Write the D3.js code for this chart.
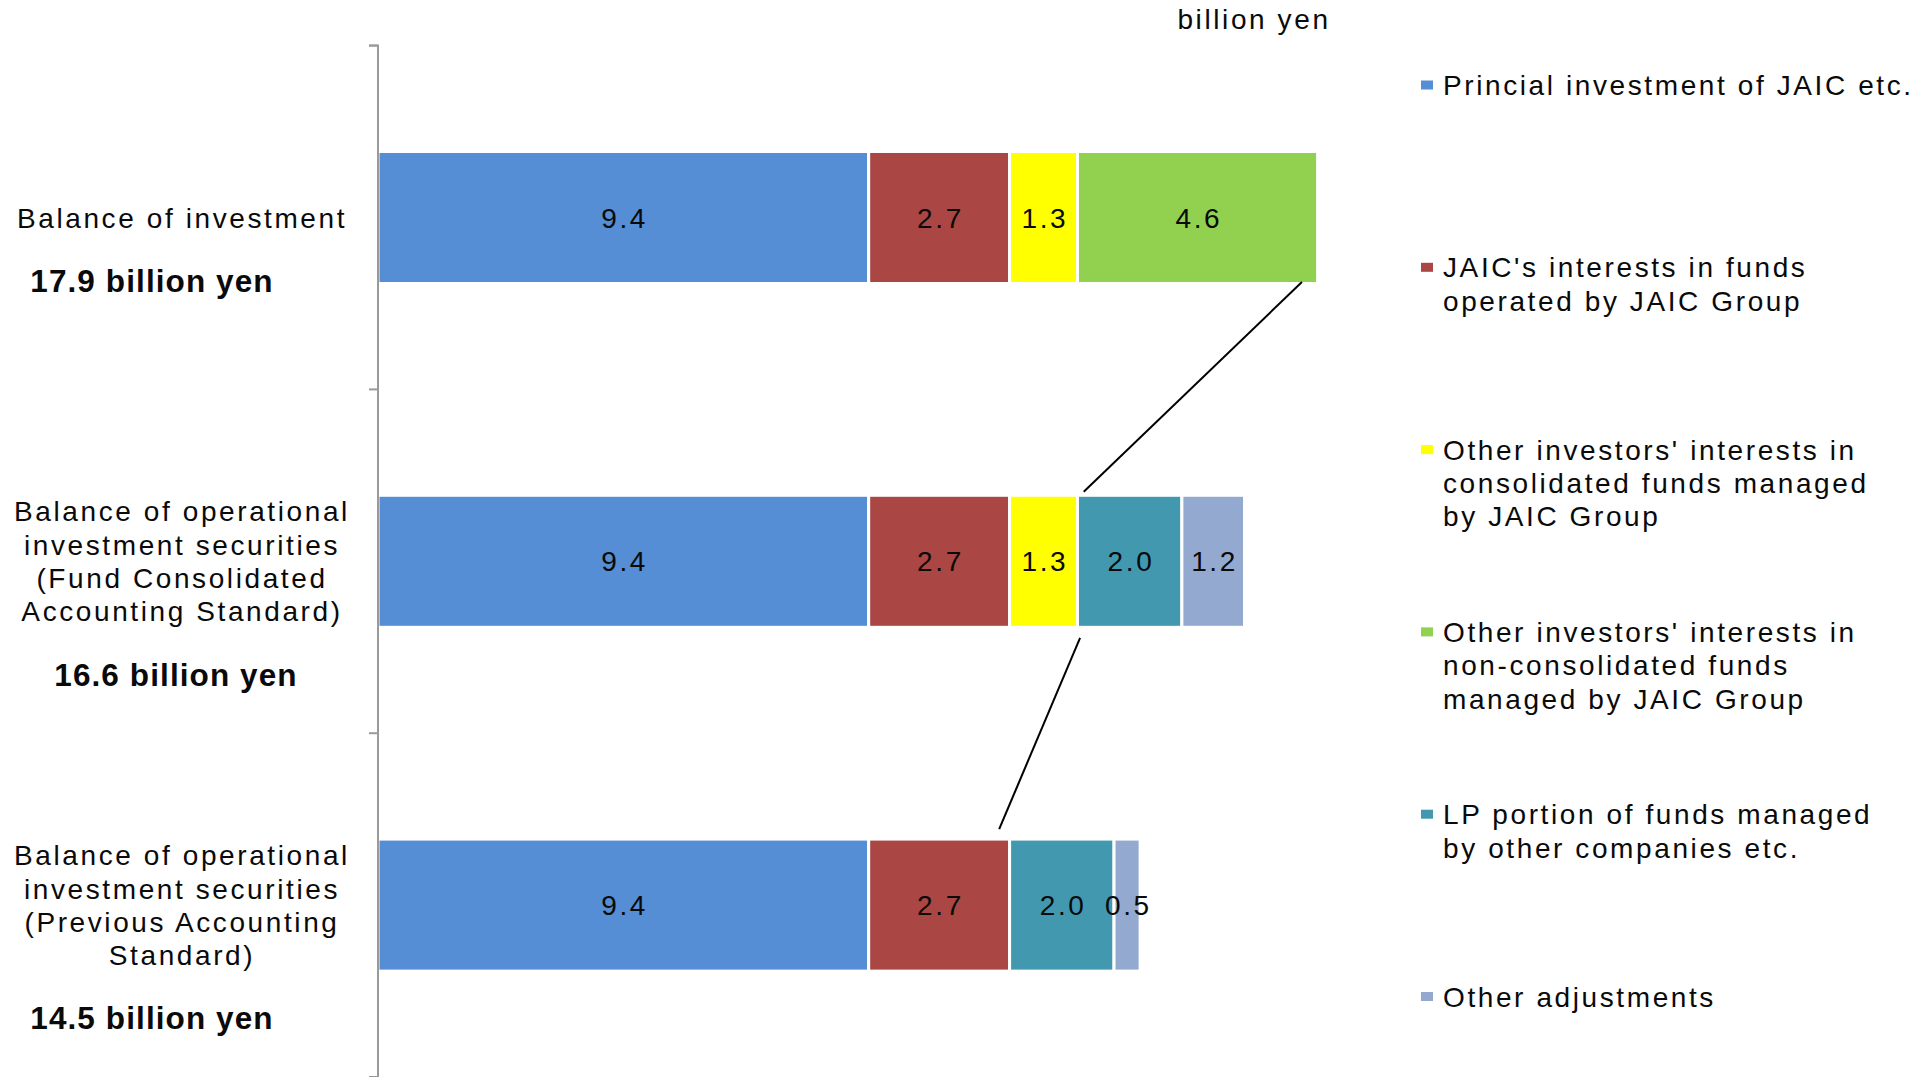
<!DOCTYPE html>
<html>
<head>
<meta charset="utf-8">
<script src="https://cdn.jsdelivr.net/npm/d3@7"></script>
<style>
  html, body { margin: 0; padding: 0; background: #ffffff; }
  svg { display: block; }
  text { font-family: "Liberation Sans", Arial, sans-serif; fill: #0a0a0a; }
</style>
</head>
<body>
<svg id="chart" width="1932" height="1077"></svg>
<script>
// ---------------- data ----------------
const categories = [
  "Balance of investment",
  "Balance of operational investment securities (Fund Consolidated Accounting Standard)",
  "Balance of operational investment securities (Previous Accounting Standard)"
];
const categoryLines = [
  ["Balance of investment"],
  ["Balance of operational", "investment securities", "(Fund Consolidated", "Accounting Standard)"],
  ["Balance of operational", "investment securities", "(Previous Accounting", "Standard)"]
];
const categoryTotals = ["17.9 billion yen", "16.6 billion yen", "14.5 billion yen"];

const seriesNames = [
  "Princial investment of JAIC etc.",
  "JAIC's interests in funds operated by JAIC Group",
  "Other investors' interests in consolidated funds managed by JAIC Group",
  "Other investors' interests in non-consolidated funds managed by JAIC Group",
  "LP portion of funds managed by other companies etc.",
  "Other adjustments"
];
const seriesLines = [
  ["Princial investment of JAIC etc."],
  ["JAIC's interests in funds", "operated by JAIC Group"],
  ["Other investors' interests in", "consolidated funds managed", "by JAIC Group"],
  ["Other investors' interests in", "non-consolidated funds", "managed by JAIC Group"],
  ["LP portion of funds managed", "by other companies etc."],
  ["Other adjustments"]
];

// values per series, in category order (billion yen)
const principalInvestment      = [9.4, 9.4, 9.4];
const jaicFundInterests        = [2.7, 2.7, 2.7];
const otherConsolidated        = [1.3, 1.3, 0];
const otherNonConsolidated     = [4.6, 0, 0];
const lpPortionOtherCompanies  = [0, 2.0, 2.0];
const otherAdjustments         = [0, 1.2, 0.5];

const seriesColors = ["#558ED5", "#AA4643", "#FFFF00", "#92D050", "#4198AF", "#93A9CF"];
const unitLabel = "billion yen";
const xDomain = [0, 20];

// connector lines between bars (value positions on the x axis)
const connectorFrom = [17.7, 13.45];   // value on upper bar (bottom edge)
const connectorTo   = [13.52, 11.9];   // value on lower bar (top edge)
const connectorFromCat = [0, 1];
const connectorToCat   = [1, 2];

// ---------------- build ----------------
const seriesValues = [principalInvestment, jaicFundInterests, otherConsolidated,
                      otherNonConsolidated, lpPortionOtherCompanies, otherAdjustments];
const keys = seriesNames;
const table = categories.map((c, i) => {
  const row = { category: c };
  keys.forEach((k, j) => row[k] = seriesValues[j][i]);
  return row;
});

const svg = d3.select("#chart");

const x = d3.scaleLinear().domain(xDomain).range([378, 378 + 1044]);
const y = d3.scaleBand().domain(categories).range([45.6, 1077])
  .paddingInner(0.616).paddingOuter(0.308);
const yOuter = d3.scaleBand().domain(categories).range([45.6, 1077]).padding(0);

const stack = d3.stack().keys(keys);
const stacked = stack(table);

const fontReg = 28, spacing = "2.6px";

// bars
const layers = svg.append("g").selectAll("g")
  .data(stacked).join("g")
  .attr("fill", (d, i) => seriesColors[i]);

layers.selectAll("rect")
  .data(d => d.map(v => Object.assign(v, { key: d.key })))
  .join("rect")
  .filter(d => d[1] - d[0] > 0)
  .attr("x", d => x(d[0]))
  .attr("y", d => y(d.data.category))
  .attr("width", d => x(d[1]) - x(d[0]))
  .attr("height", y.bandwidth())
  .attr("stroke", "#ffffff")
  .attr("stroke-width", 3);

// data labels
stacked.forEach((layer, i) => {
  svg.append("g").selectAll("text")
    .data(layer.filter(d => d[1] - d[0] > 0))
    .join("text")
    .attr("x", d => (x(d[0]) + x(d[1])) / 2 + 1.3)
    .attr("y", d => y(d.data.category) + y.bandwidth() / 2)
    .attr("dy", "0.36em")
    .attr("text-anchor", "middle")
    .attr("font-size", fontReg)
    .attr("letter-spacing", spacing)
    .text(d => d3.format(".1f")(d[1] - d[0]));
});

// category axis
const axis = d3.axisLeft(yOuter).tickSize(9).tickFormat("");
const axisG = svg.append("g").attr("transform", "translate(378,0)").call(axis);
axisG.select(".domain").attr("stroke", "#9a9a9a").attr("stroke-width", 2)
  .attr("d", "M-9,45.6H0V1077");
axisG.selectAll(".tick").remove();
// boundary ticks between categories
const bounds = [yOuter.range()[0]].concat(categories.map(c => yOuter(c) + yOuter.bandwidth()));
axisG.selectAll("line.b").data(bounds).join("line")
  .attr("x1", -9).attr("x2", 0)
  .attr("y1", d => d).attr("y2", d => d)
  .attr("stroke", "#9a9a9a").attr("stroke-width", 2);

// category labels
const lineH = 33.3;
const totalX = [152, 176, 152];
categories.forEach((c, i) => {
  const lines = categoryLines[i];
  const cy = y(c) + y.bandwidth() / 2;
  const firstCenter = cy - (lines.length - 1) * lineH / 2;
  const t = svg.append("text")
    .attr("text-anchor", "middle")
    .attr("font-size", fontReg)
    .attr("letter-spacing", spacing);
  lines.forEach((ln, k) => {
    t.append("tspan").attr("x", 182).attr("y", firstCenter + k * lineH).attr("dy", "0.36em").text(ln);
  });
  const lastCenter = firstCenter + (lines.length - 1) * lineH;
  svg.append("text")
    .attr("x", totalX[i])
    .attr("y", lastCenter + 63)
    .attr("dy", "0.36em")
    .attr("text-anchor", "middle")
    .attr("font-size", 31.5)
    .attr("font-weight", "bold")
    .attr("letter-spacing", "1.1px")
    .attr("fill", "#000")
    .text(categoryTotals[i]);
});

// unit label
svg.append("text")
  .attr("x", 1254).attr("y", 19).attr("dy", "0.36em")
  .attr("text-anchor", "middle")
  .attr("font-size", fontReg)
  .attr("letter-spacing", spacing)
  .text(unitLabel);

// connectors
connectorFrom.forEach((v, i) => {
  const y1 = y(categories[connectorFromCat[i]]) + y.bandwidth();
  const y2 = y(categories[connectorToCat[i]]);
  const gapTop = i === 0 ? -1.5 : 10.5;
  const gapBot = i === 0 ? 3.5 : 10;
  svg.append("line")
    .attr("x1", x(v)).attr("y1", y1 + gapTop)
    .attr("x2", x(connectorTo[i])).attr("y2", y2 - gapBot)
    .attr("stroke", "#000").attr("stroke-width", 2);
});

// legend
const legendTop = 85, legendStep = 182.3;
const legend = svg.append("g");
seriesNames.forEach((name, i) => {
  const cy = legendTop + i * legendStep;
  legend.append("rect")
    .attr("x", 1421).attr("y", cy - 4.5)
    .attr("width", 12).attr("height", 9)
    .attr("fill", seriesColors[i]);
  const t = legend.append("text")
    .attr("font-size", fontReg)
    .attr("letter-spacing", spacing);
  seriesLines[i].forEach((ln, k) => {
    t.append("tspan").attr("x", 1443).attr("y", cy + k * lineH).attr("dy", "0.36em").text(ln);
  });
});
</script>
</body>
</html>
